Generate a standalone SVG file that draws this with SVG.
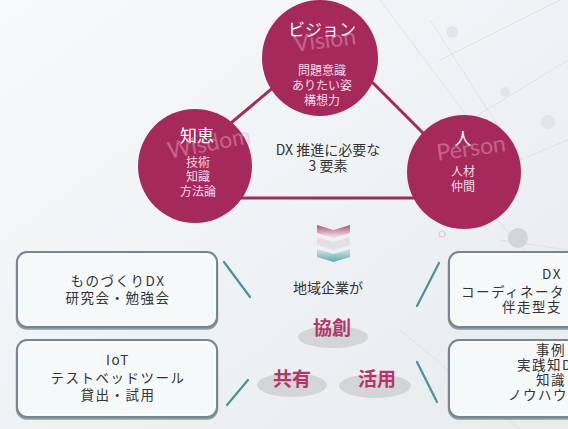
<svg xmlns="http://www.w3.org/2000/svg" width="568" height="429" viewBox="0 0 568 429">
<defs>
<linearGradient id="bg" x1="0" y1="0" x2="1" y2="1">
<stop offset="0" stop-color="#f7f9fa"/><stop offset="1" stop-color="#e8ecef"/>
</linearGradient>
<linearGradient id="chev" gradientUnits="userSpaceOnUse" x1="0" y1="225" x2="0" y2="262">
<stop offset="0" stop-color="#b5506f"/><stop offset="0.3" stop-color="#e8dbe1"/><stop offset="0.65" stop-color="#dfe4e6"/><stop offset="1" stop-color="#58acad"/>
</linearGradient>
</defs>
<style>
.jp{font-family:"Noto Sans CJK JP","Noto Sans",sans-serif}
.c{fill:#a6295b}
.tri{fill:none;stroke:#a6295b;stroke-width:3}
.ttl{fill:#ffffff;font-size:17px;text-anchor:middle}
.sub{fill:#f3dbe5;font-size:12px;text-anchor:middle}
.wm{fill:#eaaac5;opacity:.45;font-family:Lato,"Noto Sans",sans-serif;font-size:23px;text-anchor:middle}
.boxs{fill:none;stroke:#42575d;stroke-width:2.5;opacity:.55}
.box{fill:#f6f9fa;stroke:#74898f;stroke-width:2}
.boxi{fill:none;stroke:#ffffff;stroke-width:1;opacity:.9}
.bt{fill:#333333;font-size:13.5px;letter-spacing:1.5px}
.mid{text-anchor:middle}
.con{stroke:#4a9398;stroke-width:2.2;stroke-linecap:round}
.ell{fill:#d4d5d7}
.kw{fill:#b3366a;font-size:19px;font-weight:bold;text-anchor:middle}
.ct{fill:#333333;font-size:14px;text-anchor:middle}
.net{stroke:#d6dbde;stroke-width:1;fill:none;opacity:.7}
.dot{fill:#dde1e4;opacity:.7}
</style>
<rect width="568" height="429" fill="url(#bg)"/>
<g id="background-network">
<path class="net" d="M380 0 L470 120 L568 60 M430 20 L520 160 L568 140 M480 200 L568 300 M400 330 L520 429 M500 240 L568 250 M440 60 L560 0"/>
<circle class="dot" cx="452" cy="32" r="6"/>
<circle class="dot" cx="505" cy="92" r="5"/>
<circle class="dot" cx="548" cy="122" r="7"/>
<circle class="dot" cx="470" cy="222" r="4"/>
<circle cx="518" cy="238" r="10" fill="#d3d6d8"/>
<circle cx="442" cy="234" r="3" fill="none" stroke="#cfd4d7" stroke-width="1.2"/>
</g>
<g id="connectors">
<line class="tri" x1="300" y1="65" x2="200" y2="149"/>
<line class="tri" x1="200" y1="198" x2="470" y2="198"/>
<line class="tri" x1="330" y1="40" x2="470" y2="180"/>
<line class="con" x1="224" y1="262" x2="250" y2="297"/>
<line class="con" x1="248" y1="380" x2="227" y2="405"/>
<line class="con" x1="439" y1="263" x2="417" y2="306"/>
<line class="con" x1="417" y1="362" x2="437" y2="402"/>
</g>
<g id="vision">
<circle class="c" cx="320" cy="58" r="58"/>
<text class="wm" x="325" y="48" transform="rotate(-7 325 42)">Vision</text>
<text class="jp ttl" x="322" y="36">ビジョン</text>
<text class="jp sub" x="322" y="75">問題意識</text>
<text class="jp sub" x="322" y="90">ありたい姿</text>
<text class="jp sub" x="322" y="105">構想力</text>
</g>
<g id="wisdom">
<circle class="c" cx="195" cy="166" r="57"/>
<text class="wm" x="209" y="151" transform="rotate(-11 209 143)">Wisdom</text>
<text class="jp ttl" x="197" y="142">知恵</text>
<text class="jp sub" x="198" y="167">技術</text>
<text class="jp sub" x="198" y="181">知識</text>
<text class="jp sub" x="198" y="196">方法論</text>
</g>
<g id="person">
<circle class="c" cx="464" cy="172" r="57"/>
<text class="wm" x="471" y="156" transform="rotate(-8 471 148)">Person</text>
<text class="jp ttl" x="463" y="145">人</text>
<text class="jp sub" x="463" y="176">人材</text>
<text class="jp sub" x="463" y="191">仲間</text>
</g>
<g id="center-label">
<text class="jp ct" x="328" y="155">DX 推進に必要な</text>
<text class="jp ct" x="328" y="171">3 要素</text>
</g>
<g id="chevron" fill="url(#chev)">
<polygon points="317,225 333.5,230 350,225 350,233 333.5,238 317,233"/>
<polygon points="317,237 333.5,242 350,237 350,245 333.5,250 317,245"/>
<polygon points="317,249 333.5,254 350,249 350,257 333.5,262 317,257"/>
</g>
<g id="region-label">
<text class="jp ct" x="328" y="293">地域企業が</text>
</g>
<g id="kyoso">
<ellipse class="ell" cx="333" cy="337" rx="35" ry="11"/>
<text class="jp kw" x="332" y="335">協創</text>
</g>
<g id="kyoyu">
<ellipse class="ell" cx="292" cy="385" rx="35" ry="12"/>
<text class="jp kw" x="292" y="386">共有</text>
</g>
<g id="katsuyo">
<ellipse class="ell" cx="375" cy="386" rx="36" ry="12"/>
<text class="jp kw" x="377" y="386">活用</text>
</g>
<g id="box-monozukuri">
<rect class="boxs" x="17" y="253.5" width="200" height="75" rx="10"/>
<rect class="box" x="17" y="252" width="200" height="75" rx="10"/>
<rect class="boxi" x="19.5" y="254.5" width="195" height="70" rx="8"/>
<text class="jp bt mid" x="118" y="286">ものづくりDX</text>
<text class="jp bt mid" x="118" y="303">研究会・勉強会</text>
</g>
<g id="box-iot">
<rect class="boxs" x="17" y="341.5" width="200" height="77" rx="10"/>
<rect class="box" x="17" y="340" width="200" height="77" rx="10"/>
<rect class="boxi" x="19.5" y="342.5" width="195" height="72" rx="8"/>
<text class="jp bt mid" x="118" y="365">IoT</text>
<text class="jp bt mid" x="118" y="383">テストベッドツール</text>
<text class="jp bt mid" x="118" y="400">貸出・試用</text>
</g>
<g id="box-coordinator">
<rect class="boxs" x="449" y="253.5" width="200" height="75" rx="10"/>
<rect class="box" x="449" y="252" width="200" height="75" rx="10"/>
<rect class="boxi" x="451.5" y="254.5" width="195" height="70" rx="8"/>
<text class="jp bt mid" x="552" y="279">DX</text>
<text class="jp bt" x="461" y="297">コーディネータ</text>
<text class="jp bt" x="502" y="312">伴走型支</text>
</g>
<g id="box-knowledge">
<rect class="boxs" x="449" y="341.5" width="200" height="77" rx="10"/>
<rect class="box" x="449" y="340" width="200" height="77" rx="10"/>
<rect class="boxi" x="451.5" y="342.5" width="195" height="72" rx="8"/>
<text class="jp bt mid" x="551" y="355">事例</text>
<text class="jp bt" x="517" y="370">実践知D</text>
<text class="jp bt mid" x="551" y="385">知識</text>
<text class="jp bt" x="508" y="400">ノウハウ</text>
</g>
</svg>
